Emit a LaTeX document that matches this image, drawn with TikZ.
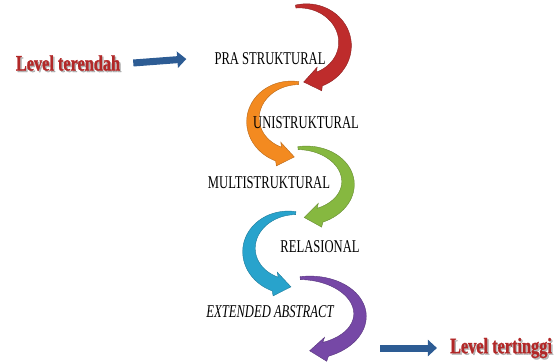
\documentclass[tikz,border=0pt]{standalone}
\usepackage{fontspec}
\setmainfont{Liberation Serif}
\newfontfamily\stagefont[FakeStretch=0.7]{Liberation Serif}
\newfontfamily\levelfont[FakeStretch=0.74, BoldFeatures={FakeBold=1.2}]{Liberation Serif}
\usetikzlibrary{arrows.meta}

\definecolor{praRed}{RGB}{190,44,44}
\definecolor{uniOrange}{RGB}{243,138,32}
\definecolor{multiGreen}{RGB}{134,184,64}
\definecolor{relCyan}{RGB}{40,163,204}
\definecolor{extPurple}{RGB}{118,72,166}
\definecolor{levelBlue}{RGB}{45,92,148}
\definecolor{levelRed}{RGB}{178,40,40}

\tikzset{
  stage/.style={font=\stagefont\fontsize{18}{20}\selectfont, inner sep=0pt},
  level/.style={font=\levelfont\bfseries\fontsize{22}{24}\selectfont, text=levelRed, inner sep=0pt},
  levelshadow/.style={level, text=black!45, opacity=0.6},
  levelarrow/.style={draw=levelBlue, line width=7pt, -{Triangle[length=9pt,width=16pt]}}
}

% tapered half-ring with a head: centre, x-radius, y-radius, start angle, end angle, colour
\newcommand{\bendarrow}[6]{%
  \begin{scope}[shift={(#1)}]
    \pgfmathsetmacro\sgn{((#5)>(#4)) ? 1 : -1}
    \pgfmathsetmacro\ex{#2*cos(#5)}
    \pgfmathsetmacro\ey{#3*sin(#5)}
    \pgfmathsetmacro\hd{atan2(\sgn*#3*cos(#5), -\sgn*#2*sin(#5)) + \sgn*10}
    \filldraw[fill=#6, draw=#6!75!black, line width=0.4pt]
      plot[domain=#4:#5, samples=40, variable=\t]
        ({(#2+1.5+6*sin(90*(\t-(#4))/((#5)-(#4))))*cos(\t)},
         {(#3+1.5+6*sin(90*(\t-(#4))/((#5)-(#4))))*sin(\t)})
      -- ({\ex+12*cos(\hd-\sgn*90)}, {\ey+12*sin(\hd-\sgn*90)})
      -- ({\ex+16*cos(\hd)}, {\ey+16*sin(\hd)})
      -- ({\ex+12*cos(\hd+\sgn*90)}, {\ey+12*sin(\hd+\sgn*90)})
      -- plot[domain=#5:#4, samples=40, variable=\t]
        ({(#2-1.5-6*sin(90*(\t-(#4))/((#5)-(#4))))*cos(\t)},
         {(#3-1.5-6*sin(90*(\t-(#4))/((#5)-(#4))))*sin(\t)})
      -- cycle;
  \end{scope}}

\begin{document}
\begin{tikzpicture}[x=1pt, y=1pt]
    \useasboundingbox (0,0) rectangle (557,362);

    % the five bent arrows, top to bottom
    \bendarrow{303,318}{42}{38}{100}{-67}{praRed}
    \bendarrow{295,242}{42}{37}{85}{247}{uniOrange}
    \bendarrow{302,179}{46}{35}{95}{-67}{multiGreen}
    \bendarrow{292,112}{43}{37}{85}{247}{relCyan}
    \bendarrow{305,47}{55}{37}{95}{-68}{extPurple}

    % stage labels
    \node[stage] (pra) at (270,303) {PRA STRUKTURAL};
    \node[stage] (uni) at (306,239) {UNISTRUKTURAL};
    \node[stage] (multi) at (269,179) {MULTISTRUKTURAL};
    \node[stage] (rel) at (320,115) {RELASIONAL};
    \node[stage, font=\stagefont\itshape\fontsize{18}{20}\selectfont] (ext) at (270,50) {EXTENDED ABSTRACT};

    % lowest and highest level
    \node[levelshadow] (lowshadow) at (69.5,297.5) {Level terendah};
    \node[level] (low) at (68,299) {Level terendah};
    \node[levelshadow] (highshadow) at (502.5,12.5) {Level tertinggi};
    \node[level] (high) at (501,14) {Level tertinggi};

    % blue pointers
    \draw[levelarrow] ([xshift=13pt]low.east) -- ([xshift=-28pt]pra.west);
    \coordinate (top) at (380,14);
    \draw[levelarrow] (top) -- ([xshift=-13pt]high.west);
\end{tikzpicture}
\end{document}
